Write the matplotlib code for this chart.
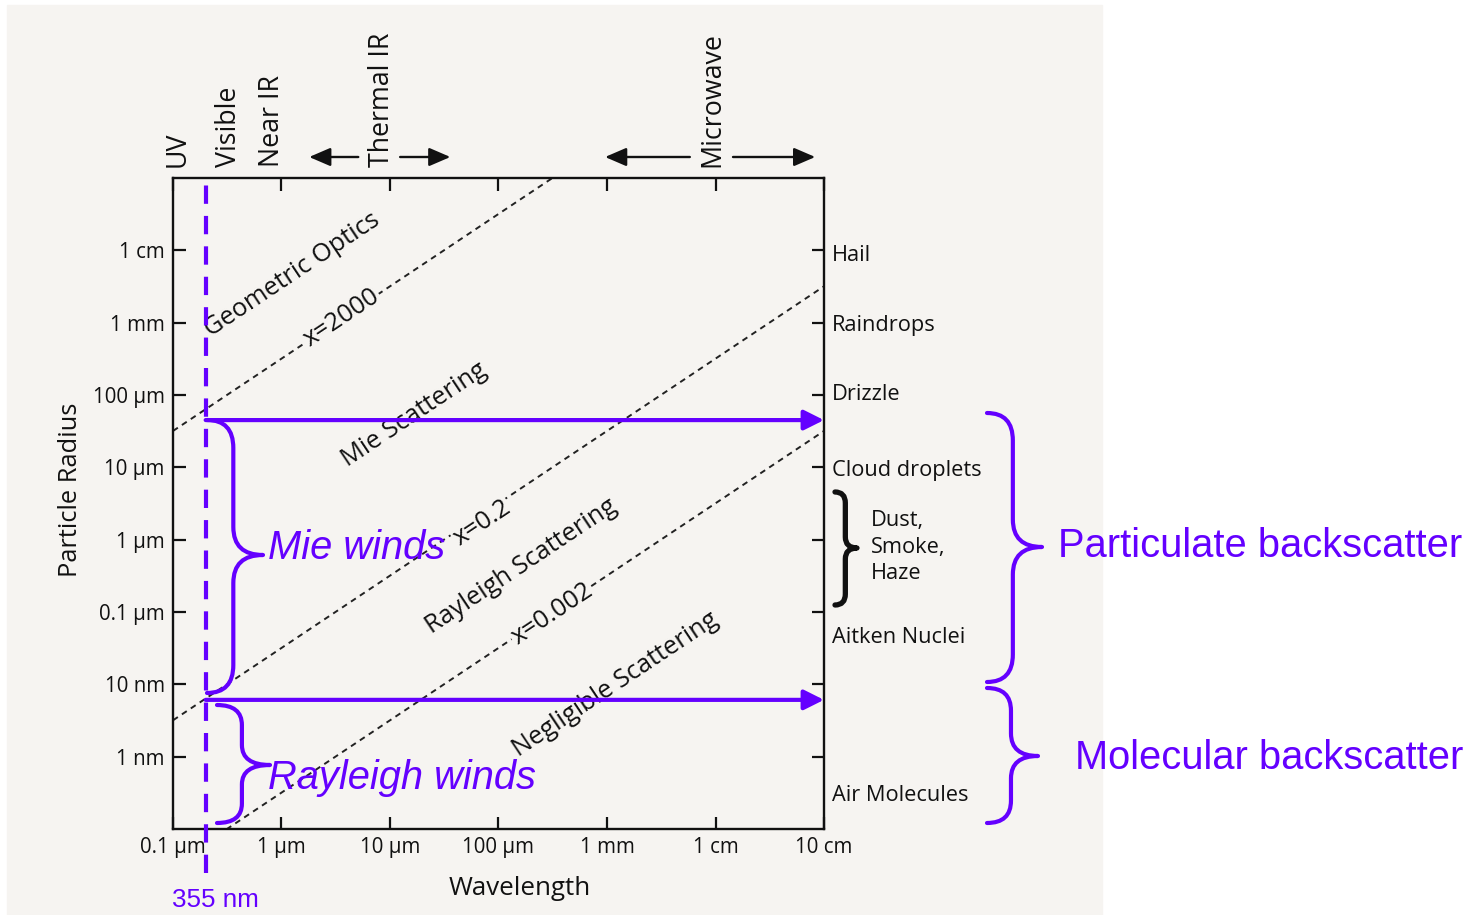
import numpy as np
import matplotlib.pyplot as plt
from matplotlib.path import Path
from matplotlib.patches import PathPatch, Rectangle
from matplotlib.transforms import IdentityTransform, offset_copy

W, H = 1473, 915

# axes (metres)
wavelength_ticks = [1e-7, 1e-6, 1e-5, 1e-4, 1e-3, 1e-2, 1e-1]
wavelength_labels = ['0.1 µm', '1 µm', '10 µm', '100 µm', '1 mm', '1 cm', '10 cm']
radius_ticks = [1e-9, 1e-8, 1e-7, 1e-6, 1e-5, 1e-4, 1e-3, 1e-2]
radius_labels = ['1 nm', '10 nm', '0.1 µm', '1 µm', '10 µm', '100 µm', '1 mm', '1 cm']

# size parameter x = 2 pi r / lambda
size_params = [2000, 0.2, 0.002]

region_names = ['Geometric Optics', 'x=2000', 'Mie Scattering', 'x=0.2',
                'Rayleigh Scattering', 'x=0.002', 'Negligible Scattering']
region_lam = [1.25e-6, 3.6e-6, 1.66e-5, 7.05e-5, 1.61e-4, 3.11e-4, 1.19e-3]
region_r = [4.56e-3, 1.16e-3, 5.3e-5, 1.7e-6, 4.2e-7, 9.4e-8, 1.0e-8]

particle_names = ['Hail', 'Raindrops', 'Drizzle', 'Cloud droplets',
                  'Dust,\nSmoke,\nHaze', 'Aitken Nuclei', 'Air Molecules']
particle_r = [8.5e-3, 9e-4, 1e-4, 9e-6, 7.9e-7, 4.4e-8, 2.9e-10]

band_names = ['UV', 'Visible', 'Near IR', 'Thermal IR', 'Microwave']
band_lam = [1.1e-7, 3.3e-7, 8.2e-7, 8.5e-6, 9.3e-3]
band_arrow_tail = [5.1e-6, 1.24e-5, 5.8e-3, 1.45e-2]
band_arrow_tip = [1.8e-6, 3.6e-5, 9.6e-4, 8.3e-2]

# lidar annotations
laser_line = 2.0e-7          # drawn position of the 355 nm marker
wind_levels = [4.5e-5, 6.1e-9]

purple = '#6400ff'
bg = '#f6f4f1'
ink = '#111111'
book_font = 'Open Sans'


def ref(x, y):
    # reference pixel (top-left origin) -> display coords
    return x, H - y


def brace(x0, ytop, ybot, w, ytip, color, lw):
    # "}" brace, ends at x0, tip at x0 + w
    xt, yt = ref(x0, ytop)
    _, yb = ref(x0, ybot)
    _, ym = ref(x0, ytip)
    xb = x0 + w * 0.47
    r1 = min(w * 0.5, (yt - ym) / 3)
    r2 = min(w * 0.5, (ym - yb) / 3)
    verts = [(x0, yt), (xb, yt), (xb, yt - r1), (xb, ym + r1),
             (xb, ym), (x0 + w, ym), (xb, ym), (xb, ym - r2),
             (xb, yb + r2), (xb, yb), (x0, yb)]
    codes = [Path.MOVETO, Path.CURVE3, Path.CURVE3, Path.LINETO,
             Path.CURVE3, Path.CURVE3, Path.CURVE3, Path.CURVE3,
             Path.LINETO, Path.CURVE3, Path.CURVE3]
    p = PathPatch(Path(verts, codes), transform=IdentityTransform(),
                  fill=False, edgecolor=color, lw=lw, capstyle='round',
                  joinstyle='round', zorder=10)
    fig.add_artist(p)


fig = plt.figure(figsize=(W / 100, H / 100), dpi=100)
fig.patch.set_facecolor('white')
fig.patches.append(Rectangle((7 / W, 0), (1102 - 7) / W, 1 - 5 / H,
                             transform=fig.transFigure, color=bg, zorder=-5))

ax = fig.add_axes([173 / W, (H - 829) / H, 651 / W, 651 / H])
ax.set_zorder(2)
ax.set_facecolor('none')
ax.set_xscale('log')
ax.set_yscale('log')
ax.set_xlim(1e-7, 1e-1)
ax.set_ylim(1e-10, 1e-1)
ax.set_autoscale_on(False)
ax.set_xticks(wavelength_ticks, wavelength_labels)
ax.set_yticks(radius_ticks, radius_labels)
ax.minorticks_off()
ax.tick_params(direction='in', length=9, width=1.6, top=True, right=True,
               labelsize=14.8, pad=6, colors=ink)
for lab in ax.get_xticklabels() + ax.get_yticklabels():
    lab.set_family(book_font)
    lab.set_weight('medium')
for s in ax.spines.values():
    s.set_linewidth(1.7)
    s.set_color(ink)

# size-parameter boundaries
lam = np.array([1e-7, 1e-1])
for xp in size_params:
    ax.plot(lam, xp * lam / (2 * np.pi), color='#222222', lw=1.4,
            dashes=(3, 2.5), zorder=2)

# region labels along the diagonals
p1 = ax.transData.transform((1e-6, 1e-6))
p2 = ax.transData.transform((1e-5, 1e-5))
ang = np.degrees(np.arctan2(p2[1] - p1[1], p2[0] - p1[0]))
for name, lx, ly in zip(region_names, region_lam, region_r):
    box = dict(facecolor=bg, edgecolor='none', pad=1) if name.startswith('x=') else None
    ax.text(lx, ly, name, rotation=ang, rotation_mode='anchor', ha='center',
            va='center', fontsize=18.3, family=book_font, weight='medium',
            color=ink, bbox=box, zorder=3)

# axis titles
ax.text(0.533, -0.091, 'Wavelength', transform=ax.transAxes, ha='center',
        va='center', fontsize=18.6, family=book_font, weight='medium', color=ink)
ax.text(-0.158, 0.521, 'Particle Radius', transform=ax.transAxes, ha='center',
        va='center', rotation=90, fontsize=18.3, family=book_font,
        weight='medium', color=ink)

# spectral bands on top
for name, lx in zip(band_names, band_lam):
    ax.annotate(name, xy=(lx, 1), xycoords=('data', 'axes fraction'),
                xytext=(0, 8), textcoords='offset points', rotation=90,
                ha='center', va='bottom', fontsize=19.3, family=book_font,
                weight='medium', color=ink, annotation_clip=False)
arr_trans = offset_copy(ax.get_xaxis_transform(), fig=fig, y=21, units='dots')
for tail, tip in zip(band_arrow_tail, band_arrow_tip):
    ax.annotate('', xy=(tip, 1), xycoords=arr_trans, xytext=(tail, 1),
                textcoords=arr_trans, annotation_clip=False,
                arrowprops=dict(arrowstyle='-|>,head_length=0.65,head_width=0.28',
                                color=ink, lw=1.7, shrinkA=0, shrinkB=0,
                                mutation_scale=20))

# particle types on the right
for name, r in zip(particle_names, particle_r):
    dx = 34 if name.startswith('Dust') else 6
    ax.annotate(name, xy=(1, r), xycoords=('axes fraction', 'data'),
                xytext=(dx, 0), textcoords='offset points', ha='left',
                va='center', fontsize=15.7, family=book_font, weight='medium',
                color=ink, linespacing=1.35, annotation_clip=False)
brace(835, 492, 605, 22, 548, ink, 3.8)

# lidar overlay
ax.plot([laser_line, laser_line], [-0.068, 1.0], transform=ax.get_xaxis_transform(),
        color=purple, lw=3, dashes=(4.4, 2.9), clip_on=False, zorder=6)
for r in wind_levels:
    ax.annotate('', xy=(1e-1, r), xytext=(laser_line, r),
                arrowprops=dict(arrowstyle='-|>,head_length=0.6,head_width=0.3',
                                color=purple, lw=3, shrinkA=0, shrinkB=0,
                                mutation_scale=20), zorder=6)

brace(207, 420, 693, 56, 555, purple, 3)
brace(217, 705, 823, 53, 765, purple, 3)
brace(987, 413, 682, 55, 547, purple, 3)
brace(987, 688, 823, 51, 756, purple, 3)

fig.text(268 / W, 1 - 548 / H, 'Mie winds', ha='left', va='center',
         fontsize=28.7, style='italic', family='Liberation Sans', color=purple)
fig.text(268 / W, 1 - 778 / H, 'Rayleigh winds', ha='left', va='center',
         fontsize=28.7, style='italic', family='Liberation Sans', color=purple)
fig.text(1058 / W, 1 - 546 / H, 'Particulate backscatter', ha='left', va='center',
         fontsize=28.7, family='Liberation Sans', color=purple)
fig.text(1075 / W, 1 - 758 / H, 'Molecular backscatter', ha='left', va='center',
         fontsize=28.7, family='Liberation Sans', color=purple)
fig.text(215 / W, 1 - 900 / H, '355 nm', ha='center', va='center',
         fontsize=18.7, family='Liberation Sans', color=purple)

fig.savefig('out.png', dpi=100)
